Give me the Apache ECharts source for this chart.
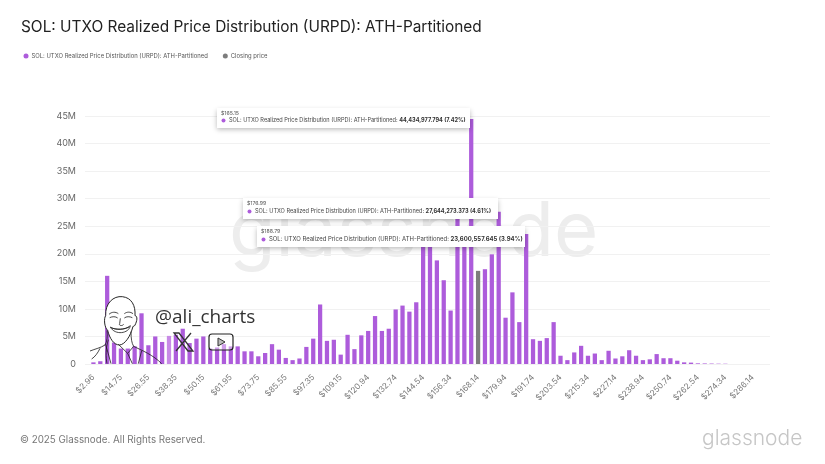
<![CDATA[<!DOCTYPE html>
<html>
<head>
<meta charset="utf-8">
<script src="https://cdn.jsdelivr.net/npm/echarts@6/dist/echarts.min.js"></script>
<style>html,body{margin:0;padding:0;background:#fff}#c{width:825px;height:464px}</style>
</head>
<body>
<div id="c"></div>
<script>
const titleText = 'SOL: UTXO Realized Price Distribution (URPD): ATH-Partitioned';
const seriesName = 'SOL: UTXO Realized Price Distribution (URPD): ATH-Partitioned';
const closeName = 'Closing price';
const tickLabels = ['$2.96','$14.75','$26.55','$38.35','$50.15','$61.95','$73.75','$85.55','$97.35','$109.15','$120.94','$132.74','$144.54','$156.34','$168.14','$179.94','$191.74','$203.54','$215.34','$227.14','$238.94','$250.74','$262.54','$274.34','$286.14'];
const urpdMillions = [0.3,0.5,16,3.9,2.8,2.8,3.2,9.2,3.4,5,4,5.1,5.3,6.4,3.8,4.6,5,2.8,3,3.6,3.2,3.2,2.3,2.3,1.4,2,3.6,2.6,1.1,0.7,1,3.1,4.6,10.8,4.2,4.4,1.7,5.3,2.7,5.2,6,8.7,6,6.4,9.9,10.6,9.5,11.2,23,22,18.8,15.2,9.7,28,23.5,44.435,0,17.2,19.9,27.644,8.4,13,7.6,23.601,4.5,4.2,4.7,7.6,1.5,0.7,2.1,3.3,1.5,1.9,0.7,2.4,1,1.4,2.5,1.5,0.7,0.85,1.8,1.05,1.05,0.6,0.3,0.25,0.12,0.1,0.08,0.06,0.05,0,0,0,0,0,0];
const closeBinIndex = 56;
const closeMillions = 16.9;
const tooltipBins = [
  {i:55, price:'$165.15', value:'44,434,977.794 (7.42%)', w:253, h:20, dy:-11, fs:5.58},
  {i:59, price:'$176.99', value:'27,644,273.373 (4.61%)', w:255, h:21, dy:-14, fs:5.6},
  {i:63, price:'$188.79', value:'23,600,557.645 (3.94%)', w:268, h:21, dy:-8, fs:5.96}
];
const PURPLE = '#ad5cdb', GRAY = '#7d7d7d';

const categories = urpdMillions.map((_, i) => i % 4 === 0 && tickLabels[i / 4] ? tickLabels[i / 4] : '$' + (2.96 + 2.95 * i).toFixed(2));
const mainData = urpdMillions.map((v, i) => i === 11 ? {value: v, itemStyle: {color: '#c88ae6'}} : v);
const closeData = urpdMillions.map((_, i) => i === closeBinIndex ? closeMillions : 0);

const chart = echarts.init(document.getElementById('c'), null, {renderer: 'canvas'});
const FF = 'Inter, "Liberation Sans", sans-serif';

const facePaths = [
  {d:'M62 92 C60 55 85 32 112 35 C140 38 152 62 150 92 C156 92 158 102 152 116 C149 124 146 124 144 124 C136 155 120 178 104 180 C86 180 74 160 68 136 C58 128 56 100 62 92 Z', fill:'#fff', lw:1.8},
  {d:'M72 88 C80 80 92 80 100 86 M118 86 C126 80 136 80 144 86 M74 98 C82 94 92 94 98 99 M118 99 C124 94 134 94 142 98 M106 100 L104 116 C100 122 112 124 116 118', fill:null, lw:1.5},
  {d:'M76 126 C90 136 120 136 136 122 C132 146 90 152 76 126 Z M80 129 C95 134 118 134 132 126', fill:'#fff', lw:1.5},
  {d:'M66 136 C68 155 66 170 60 180 C48 188 30 192 15 198 M45 190 C38 205 30 215 20 222 M62 178 L78 236 M70 164 C62 190 62 215 66 236 M138 140 C138 160 140 175 146 184 C170 196 205 210 230 236 M146 184 L128 205 L142 236 M128 205 L100 178 M170 197 L160 236', fill:null, lw:1.5}
];
function shapeType(name, d) {
  echarts.graphic.registerShape(name, echarts.graphic.extendPath(d, {}));
  return name;
}

chart.setOption({
  animation:false,
  backgroundColor:'#fff',
  textStyle:{fontFamily:FF},
  legend:{
    left:18.5, top:48, itemWidth:5, itemHeight:5, itemGap:15, icon:'circle',
    textStyle:{fontSize:5.9, color:'#555', padding:[0,0,0,-2]},
    data:[{name:seriesName, itemStyle:{color:PURPLE}},{name:closeName, itemStyle:{color:GRAY}}]
  },
  grid:{left:90, right:55, top:116, bottom:100},
  xAxis:{
    type:'category', data:categories,
    axisLine:{show:false}, axisTick:{show:false},
    axisLabel:{interval:3, rotate:45, fontSize:8.2, color:'#777', margin:12}
  },
  yAxis:{
    type:'value', min:0, max:45, interval:5,
    axisLine:{show:false},
    axisTick:{show:true, length:5, lineStyle:{color:'#f1f1f1', width:1}},
    axisLabel:{fontSize:9, color:'#666', margin:14, formatter:v => v === 0 ? '0' : v + 'M'},
    splitLine:{lineStyle:{color:'#f1f1f1', width:1}}
  },
  series:[
    {name:seriesName, type:'bar', data:mainData, barWidth:'62%', barGap:'-100%', itemStyle:{color:PURPLE}, z:2},
    {name:closeName, type:'bar', data:closeData, barWidth:'62%', barGap:'-100%', itemStyle:{color:GRAY}, z:3}
  ]
});

const cards = tooltipBins.map((t, n) => {
  const [cx, cy] = chart.convertToPixel({seriesIndex:0}, [t.i, urpdMillions[t.i]]);
  const x = Math.round(cx - 1 - t.w), y = Math.round(cy + t.dy);
  return {type:'group', x, y, z:40 + n, children:[
    {type:'rect', z:40+n, shape:{x:0, y:0, width:t.w, height:t.h}, style:{fill:'#fff', shadowBlur:5, shadowColor:'rgba(0,0,0,0.28)', shadowOffsetY:1.5}},
    {type:'text', z:41+n, x:4, y:2.5, style:{text:t.price, font:'400 5.2px '+FF, fill:'#555'}},
    {type:'circle', z:41+n, shape:{cx:6.5, cy:t.h-7.5, r:2}, style:{fill:PURPLE}},
    {type:'text', z:41+n, x:12, y:t.h-11, style:{
      text:'{a|'+seriesName+': }{b|'+t.value+'}',
      rich:{a:{font:'400 '+t.fs+'px '+FF, fill:'#444'}, b:{font:'700 '+t.fs+'px '+FF, fill:'#333'}}
    }}
  ]};
});

const graphics = [
  {type:'text', z:-1, silent:true, x:229, y:195, style:{text:'glassnode', font:'400 76px '+FF, fill:'#ededed'}},
  {type:'text', x:21, y:20, style:{text:titleText, font:'400 15.4px '+FF, fill:'#222'}},
  {type:'text', x:20, y:435, style:{text:'© 2025 Glassnode. All Rights Reserved.', font:'400 9.8px '+FF, fill:'#777'}},
  {type:'text', x:702, y:428, style:{text:'glassnode', font:'300 21px '+FF, fill:'#c6c6c6'}},
  {type:'group', x:85, y:285, scaleX:1/3, scaleY:1/3, z:30, children: facePaths.map((p, n) => ({
    type:shapeType('face'+n, p.d), z:30, style:{fill:p.fill || 'none', stroke:'#1c1c1c', lineWidth:p.lw * 1.6}
  }))},
  {type:'text', x:155, y:308, z:31, style:{text:'@ali_charts', font:'400 19px "Open Sans", sans-serif', fill:'#333'}},
  {type:shapeType('xi','M0 0 L5 0 L19 18 L14 18 Z M17 0 L2 18'), x:174, y:333, z:31, style:{fill:'none', stroke:'#333', lineWidth:1.3}},
  {type:'rect', z:31, shape:{x:209, y:334, width:24, height:16, r:3}, style:{fill:'rgba(255,255,255,0.4)', stroke:'#222', lineWidth:1.2}},
  {type:'polygon', z:32, shape:{points:[[218,338],[225,342],[218,346]]}, style:{fill:'#bbb', stroke:'#333', lineWidth:1}}
].concat(cards);
chart.setOption({graphic:{elements:graphics}});
</script>
</body>
</html>]]>
